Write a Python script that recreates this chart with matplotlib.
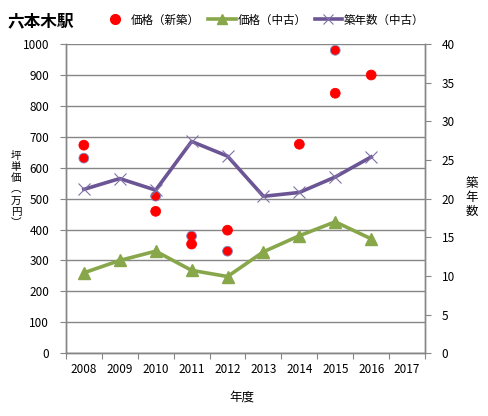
import matplotlib
matplotlib.use("Agg")
import matplotlib.pyplot as plt
import numpy as np

plt.rcParams['font.family'] = ['Noto Sans CJK JP', 'DejaVu Sans']

# 年度
years = [2008, 2009, 2010, 2011, 2012, 2013, 2014, 2015, 2016, 2017]

# 価格(新築): 年度ごとの点
new_years = [2008, 2008, 2010, 2010, 2011, 2011, 2012, 2012, 2014, 2015, 2015, 2016]
new_price = [673, 631, 508, 459, 379, 353, 398, 330, 676, 980, 841, 900]
new_blue_edge = [False, True, True, False, True, False, False, True, False, True, False, False]

# 価格(中古)
used_years = [2008, 2009, 2010, 2011, 2012, 2013, 2014, 2015, 2016]
used_price = [260, 300, 330, 268, 248, 328, 380, 425, 370]

# 築年数(中古)
age = [21.2, 22.6, 21.1, 27.4, 25.5, 20.3, 20.8, 22.8, 25.4]

# 縦書きラベル
left_label = ['坪', '単', '価', '︵', '万', '円', '︶']
right_label = ['築', '年', '数']

c_red = '#ff0000'
c_green = '#88a74a'
c_purple = '#6b5594'
c_grid = '#868686'

W, H = 488, 416
fig = plt.figure(figsize=(W / 100, H / 100), dpi=100)
ax = fig.add_axes([0.135, 0.151, 0.736, 0.743])
ax2 = ax.twinx()

xpos = {y: i for i, y in enumerate(years)}
nx = [xpos[y] for y in new_years]
ux = [xpos[y] for y in used_years]

edges = ['#7f8fc8' if b else c_red for b in new_blue_edge]
ax.scatter(nx, new_price, s=50, c=c_red, edgecolors=edges, linewidths=0.6, zorder=5)
ax.plot(ux, used_price, color=c_green, lw=2.6, marker='^', ms=8, zorder=4)
ax2.plot(ux, age, color=c_purple, lw=2.6, marker='x', ms=8, mew=0.8,
         mec='#8070a8', zorder=4)

ax.set_xlim(-0.5, len(years) - 0.5)
ax.set_ylim(0, 1000)
ax.set_yticks(np.arange(0, 1001, 100))
ax2.set_ylim(0, 40)
ax2.set_yticks(np.arange(0, 41, 5))

ax.set_xticks(np.arange(-0.5, len(years), 1.0))
ax.set_xticklabels([])
ax.set_xticks(range(len(years)), minor=True)
ax.set_xticklabels([str(y) for y in years], minor=True, fontsize=8.5)
ax.tick_params(axis='x', which='major', length=4, color=c_grid, direction='out')
ax.tick_params(axis='x', which='minor', length=0, pad=7)
ax.tick_params(axis='y', length=4, color=c_grid, labelsize=8.5, pad=8)
ax2.tick_params(axis='y', length=4, color=c_grid, labelsize=8.5, pad=8)

ax.yaxis.grid(True, color=c_grid, lw=1.0)
ax.set_axisbelow(True)
for a in (ax, ax2):
    a.spines['top'].set_visible(False)
    for s in ('left', 'right', 'bottom'):
        a.spines[s].set_color(c_grid)
        a.spines[s].set_linewidth(1.0)

fig.text(0.016, 0.950, '六本木駅', fontsize=12, fontweight='bold', ha='left', va='center')

# 凡例
leg_handles = [
    plt.Line2D([], [], ls='none', marker='o', ms=7, color=c_red),
    plt.Line2D([], [], color=c_green, lw=2.6, marker='^', ms=7),
    plt.Line2D([], [], color=c_purple, lw=2.6, marker='x', ms=7, mew=0.8, mec='#8070a8'),
]
fig.legend(leg_handles, ['価格（新築）', '価格（中古）', '築年数（中古）'],
           loc='center', bbox_to_anchor=(0.539, 0.952), ncol=3, frameon=False,
           fontsize=8.3, handlelength=2.4, handletextpad=0.15, columnspacing=0.7)

# 縦書き: 1文字ずつ配置
for i, ch in enumerate(left_label):
    fig.text(16 / W, 1 - (156 + 11.2 * i) / H, ch, fontsize=7.6, ha='center', va='center')
for i, ch in enumerate(right_label):
    fig.text(472 / W, 1 - (184 + 13.5 * i) / H, ch, fontsize=9, ha='center', va='center')

fig.text(0.496, 0.046, '年度', fontsize=9, ha='center', va='center')

fig.savefig('out.png', dpi=100)
